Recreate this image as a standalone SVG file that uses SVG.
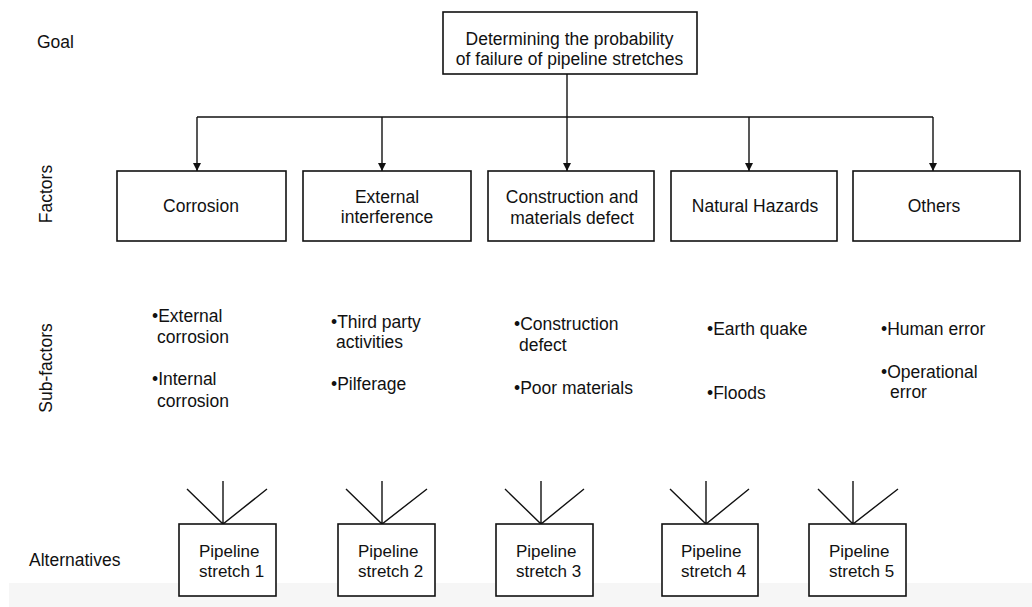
<svg xmlns="http://www.w3.org/2000/svg" width="1032" height="607" viewBox="0 0 1032 607">
  <style>
    text { font-family: "Liberation Sans", Arial, sans-serif; fill: #111; }
    .lbl { font-size: 17.5px; }
    .nt { font-size: 18.5px; text-anchor: middle; }
    .gt { font-size: 19px; text-anchor: middle; }
    .sf { font-size: 17.5px; }
    .alt { font-size: 17px; }
    .box { fill: #fff; stroke: #111; stroke-width: 1.6; }
    .ln { stroke: #111; stroke-width: 1.4; fill: none; }
  </style>
  <defs>
    <marker id="arr" viewBox="0 0 10 10" refX="10" refY="5" markerWidth="8" markerHeight="8" markerUnits="userSpaceOnUse" orient="auto">
      <path d="M0,0 L10,5 L0,10 z" fill="#111"/>
    </marker>
  </defs>

  <rect x="0" y="0" width="1032" height="607" fill="#fff"/>
  <!-- pale strip along the lower edge -->
  <rect x="9" y="583" width="1023" height="24" fill="#f6f6f6"/>

  <!-- level labels -->
  <g id="level-labels">
    <text class="lbl" x="37" y="48">Goal</text>
    <text class="lbl" text-anchor="middle" transform="translate(52,194) rotate(-90)">Factors</text>
    <text class="lbl" text-anchor="middle" transform="translate(52,368) rotate(-90)">Sub-factors</text>
    <text class="lbl" x="29" y="566">Alternatives</text>
  </g>

  <!-- connectors -->
  <g id="connectors">
    <line class="ln" x1="567" y1="74" x2="567" y2="171" marker-end="url(#arr)"/>
    <line class="ln" x1="197" y1="117" x2="933" y2="117"/>
    <line class="ln" x1="197" y1="117" x2="197" y2="171" marker-end="url(#arr)"/>
    <line class="ln" x1="382" y1="117" x2="382" y2="171" marker-end="url(#arr)"/>
    <line class="ln" x1="749" y1="117" x2="749" y2="171" marker-end="url(#arr)"/>
    <line class="ln" x1="933" y1="117" x2="933" y2="171" marker-end="url(#arr)"/>
    <!-- fans above each alternative -->
    <path class="ln" d="M187,489 L223,524 L267,489 M223,481 L223,524"/>
    <path class="ln" d="M346,489 L382,524 L427,489 M382,481 L382,524"/>
    <path class="ln" d="M505,489 L541,524 L584,489 M541,481 L541,524"/>
    <path class="ln" d="M670,489 L706,524 L749,489 M706,481 L706,524"/>
    <path class="ln" d="M818,489 L853,524 L898,489 M853,481 L853,524"/>
  </g>

  <!-- goal (narrow lettering: scaled horizontally) -->
  <g id="goal">
    <rect class="box" x="443" y="12" width="254" height="62"/>
    <g transform="translate(569.5,0) scale(0.92,1)">
      <text class="gt" x="0" y="45">Determining the probability</text>
      <text class="gt" x="0" y="65">of failure of pipeline stretches</text>
    </g>
  </g>

  <!-- factors -->
  <g id="factor-corrosion">
    <rect class="box" x="117" y="171" width="169" height="70"/>
    <g transform="translate(201,0) scale(0.946,1)">
      <text class="nt" x="0" y="212">Corrosion</text>
    </g>
  </g>
  <g id="factor-external">
    <rect class="box" x="303" y="171" width="168" height="70"/>
    <g transform="translate(387,0) scale(0.946,1)">
      <text class="nt" x="0" y="203">External</text>
      <text class="nt" x="0" y="223">interference</text>
    </g>
  </g>
  <g id="factor-construction">
    <rect class="box" x="488" y="171" width="166" height="70"/>
    <g transform="translate(572,0) scale(0.946,1)">
      <text class="nt" x="0" y="203">Construction and</text>
      <text class="nt" x="0" y="224">materials defect</text>
    </g>
  </g>
  <g id="factor-natural">
    <rect class="box" x="671" y="171" width="166" height="70"/>
    <g transform="translate(755,0) scale(0.946,1)">
      <text class="nt" x="0" y="212">Natural Hazards</text>
    </g>
  </g>
  <g id="factor-others">
    <rect class="box" x="853" y="171" width="167" height="70"/>
    <g transform="translate(934,0) scale(0.946,1)">
      <text class="nt" x="0" y="212">Others</text>
    </g>
  </g>

  <!-- sub-factors -->
  <g id="sub-corrosion" class="sf">
    <text x="152" y="322">•External</text>
    <text x="157" y="343">corrosion</text>
    <text x="152" y="385">•Internal</text>
    <text x="157" y="407">corrosion</text>
  </g>
  <g id="sub-external" class="sf">
    <text x="331" y="328">•Third party</text>
    <text x="336" y="348">activities</text>
    <text x="331" y="390">•Pilferage</text>
  </g>
  <g id="sub-construction" class="sf">
    <text x="514" y="330">•Construction</text>
    <text x="519" y="351">defect</text>
    <text x="514" y="394">•Poor materials</text>
  </g>
  <g id="sub-natural" class="sf">
    <text x="707" y="335">•Earth quake</text>
    <text x="707" y="399">•Floods</text>
  </g>
  <g id="sub-others" class="sf">
    <text x="881" y="335">•Human error</text>
    <text x="881" y="378">•Operational</text>
    <text x="890" y="398">error</text>
  </g>

  <!-- alternatives -->
  <g id="alt-1">
    <rect class="box" x="179" y="524" width="97" height="72"/>
    <text class="alt" x="199" y="557">Pipeline</text>
    <text class="alt" x="199" y="577">stretch 1</text>
  </g>
  <g id="alt-2">
    <rect class="box" x="338" y="524" width="97" height="72"/>
    <text class="alt" x="358" y="557">Pipeline</text>
    <text class="alt" x="358" y="577">stretch 2</text>
  </g>
  <g id="alt-3">
    <rect class="box" x="496" y="524" width="97" height="72"/>
    <text class="alt" x="516" y="557">Pipeline</text>
    <text class="alt" x="516" y="577">stretch 3</text>
  </g>
  <g id="alt-4">
    <rect class="box" x="662" y="524" width="96" height="72"/>
    <text class="alt" x="681" y="557">Pipeline</text>
    <text class="alt" x="681" y="577">stretch 4</text>
  </g>
  <g id="alt-5">
    <rect class="box" x="809" y="524" width="97" height="72"/>
    <text class="alt" x="829" y="557">Pipeline</text>
    <text class="alt" x="829" y="577">stretch 5</text>
  </g>
</svg>
